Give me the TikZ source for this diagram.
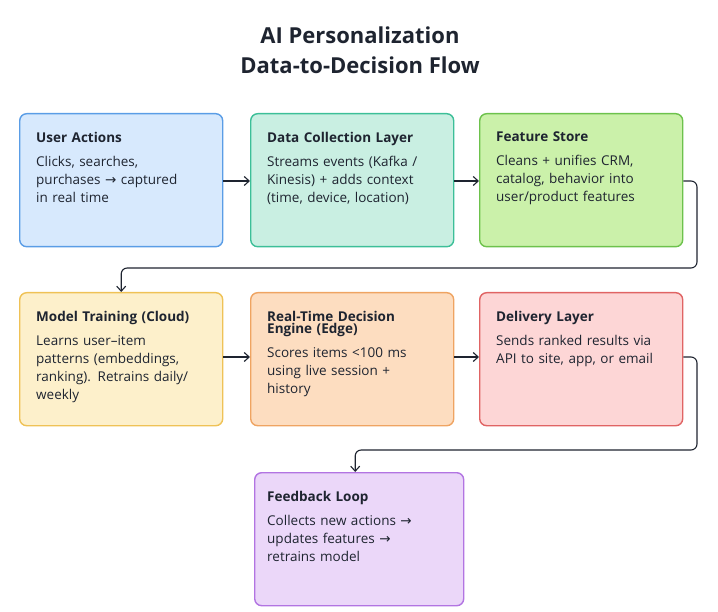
\documentclass[tikz,border=0pt]{standalone}
\usepackage{fontspec}
\setmainfont{Open Sans}
\newfontfamily\symfont{DejaVu Sans}
\usetikzlibrary{arrows.meta,positioning}
\newcommand{\ar}{{\symfont\char"2192}}

\definecolor{blueF}{HTML}{D7E9FD}\definecolor{blueD}{HTML}{5A9DE6}
\definecolor{tealF}{HTML}{C9EFE2}\definecolor{tealD}{HTML}{3CBF98}
\definecolor{greenF}{HTML}{CBF1AA}\definecolor{greenD}{HTML}{6DC24C}
\definecolor{yellF}{HTML}{FDF0CB}\definecolor{yellD}{HTML}{EFC256}
\definecolor{orngF}{HTML}{FDDDC0}\definecolor{orngD}{HTML}{EFA462}
\definecolor{redF}{HTML}{FDD6D6}\definecolor{redD}{HTML}{E06464}
\definecolor{purpF}{HTML}{EBD7F9}\definecolor{purpD}{HTML}{B274E2}
\definecolor{ink}{HTML}{1E2430}

\tikzset{box/.style={draw=#1D,fill=#1F,line width=1.4pt,rounded corners=7pt,
  anchor=north west,minimum height=133pt,minimum width=203pt,inner sep=0pt}}
\tikzset{txt/.style={anchor=north west,text width=185pt,align=left,inner sep=0pt,
  font=\fontsize{13.5}{18}\selectfont,text=ink}}
\tikzset{flow/.style={draw=ink,line width=1.1pt,-{Straight Barb[length=5pt,width=9pt]},rounded corners=6pt}}

\newcommand{\card}[6]{%
  \node[box=#4] (#1) at (#2,#3) {};
  \node[txt] (#1t) at ([xshift=17pt,yshift=-19pt]#1.north west) {\textbf{#5}\\[6pt]#6};}

\begin{document}
\begin{tikzpicture}[x=1pt,y=-1pt]
  \useasboundingbox (0,0) rectangle (718,612);
  \node[font=\fontsize{22}{30}\selectfont\bfseries,align=center,text=ink] (title) at (360,50)
    {AI Personalization\\Data-to-Decision Flow};
  % row 1
  \card{user}{19}{113}{blue}{User Actions}{Clicks, searches,\\purchases \ar{} captured\\in real time}
  \card{coll}{250}{113}{teal}{Data Collection Layer}{Streams events (Kafka /\\Kinesis) + adds context\\(time, device, location)}
  \card{feat}{479}{113}{green}{Feature Store}{Cleans + unifies CRM,\\catalog, behavior into\\user/product features}
  % row 2
  \card{train}{19}{292}{yell}{Model Training (Cloud)}{Learns user–item\\patterns (embeddings,\\ranking). Retrains daily/\\weekly}
  \card{engine}{250}{292}{orng}{Real-Time Decision\\[-6pt]Engine (Edge)}{Scores items <100 ms\\using live session +\\history}
  \card{deliv}{479}{292}{red}{Delivery Layer}{Sends ranked results via\\API to site, app, or email}
  % row 3
  \node[box=purp,minimum width=209pt] (loop) at (254,472) {};
  \node[txt] (loopt) at ([xshift=13pt,yshift=-19pt]loop.north west)
    {\textbf{Feedback Loop}\\[6pt]Collects new actions \ar\\updates features \ar\\retrains model};
  % connectors
  \draw[flow] ([yshift=-68pt]user.north east) -- ([yshift=-68pt]coll.north west);
  \draw[flow] ([yshift=-68pt]coll.north east) -- ([yshift=-68pt]feat.north west);
  \draw[flow] ([yshift=-68pt]feat.north east) -| (697,268) -| (train.north);
  \draw[flow] ([yshift=-65pt]train.north east) -- ([yshift=-65pt]engine.north west);
  \draw[flow] ([yshift=-65pt]engine.north east) -- ([yshift=-65pt]deliv.north west);
  \draw[flow] ([yshift=-65pt]deliv.north east) -| (697,450) -| ([xshift=-4pt]loop.north);
\end{tikzpicture}
\end{document}
